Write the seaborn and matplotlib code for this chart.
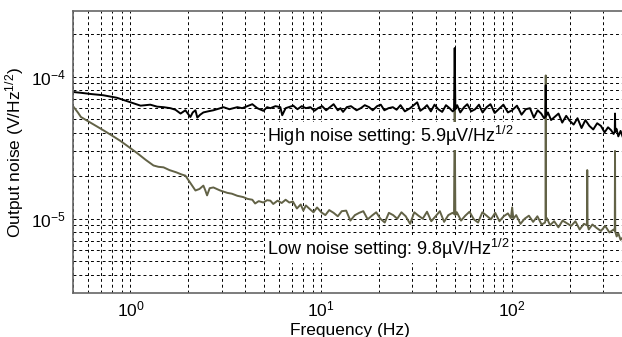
import numpy as np
import matplotlib
matplotlib.use("Agg")
import matplotlib.pyplot as plt
import matplotlib.ticker as mticker
import seaborn as sns

# frequency (Hz) / noise (uV/Hz^1/2)
hi_freq = [0.5, 0.55, 0.62, 0.72, 0.85, 1.0, 1.13, 1.27, 1.38, 1.49,
           1.62, 1.72, 1.83, 1.94, 2.06, 2.12, 2.19, 2.24, 2.32, 2.41,
           2.55, 2.72, 2.9, 3.07, 3.3, 3.63, 3.85, 4.1, 4.35, 4.62,
           4.97, 5.2, 5.41, 5.75, 6.1, 6.24, 6.5, 7.13, 7.5, 7.9,
           8.3, 8.76, 9.2, 9.6, 10.1, 10.6, 11.1, 11.6, 12.2, 12.6,
           13.0, 13.6, 14.3, 15.3, 16.1, 16.9, 17.8, 18.6, 19.6, 20.5,
           21.4, 22.5, 23.7, 24.8, 26.0, 27.4, 29.2, 30.5, 31.8, 33.0,
           34.5, 35.8, 37.5, 39.2, 41.0, 43.0, 45.0, 47.0, 48.8, 49.6,
           50.0, 50.4, 51.5, 53.5, 56.0, 58.2, 61.0, 64.0, 67.0, 70.0,
           73.5, 77.0, 81.0, 86.0, 90.0, 95.0, 100.0, 106.0, 112.0, 118.0,
           124.0, 130.0, 136.0, 142.0, 147.0, 149.2, 150.0, 150.8, 154.0, 160.0,
           167.0, 175.0, 183.0, 192.0, 200.0, 210.0, 220.0, 231.0, 242.0, 254.0,
           266.0, 279.0, 292.0, 305.0, 318.0, 330.0, 340.0, 345.0, 346.0, 347.0,
           352.0, 360.0, 370.0, 380.0]
hi_noise = [78, 77, 75.5, 74, 71, 66, 62.5, 63.5, 61.5, 61,
            60, 58.5, 55, 58, 52, 56, 58, 51.5, 54, 56,
            57, 58, 59.5, 61, 59, 61, 60, 62, 64, 60,
            57.5, 61, 60, 62, 61, 53.5, 60, 62.5, 59, 62,
            60, 61, 57.5, 60, 62, 58, 61, 64, 58, 60,
            56.5, 61, 62, 58, 60, 63, 61, 58, 62, 63.5,
            58, 60, 61, 58.5, 63, 57, 60, 63, 66, 57.5,
            60, 63, 57, 63.5, 59, 56.5, 63, 60, 57, 58,
            159, 59, 63, 56, 61, 64, 57, 59, 63.5, 56,
            61, 64, 55.5, 60, 63.5, 56, 58, 62.5, 54, 59,
            60, 51.5, 58, 55, 51, 52, 87, 53, 56, 49.5,
            52, 55, 47.5, 53, 49, 46, 51, 43.5, 49.5, 45,
            42.5, 47, 45, 40.5, 44, 42, 39.5, 41, 55, 41,
            43, 38, 41.5, 37.5]

lo_freq = [0.5, 0.53, 0.55, 0.6, 0.66, 0.72, 0.8, 0.88, 0.98, 1.09,
           1.2, 1.32, 1.4, 1.49, 1.6, 1.74, 1.85, 1.94, 2.05, 2.19,
           2.3, 2.41, 2.46, 2.52, 2.6, 2.72, 2.95, 3.22, 3.4, 3.63,
           3.9, 4.1, 4.35, 4.5, 4.7, 4.97, 5.2, 5.41, 5.6, 5.9,
           6.2, 6.5, 6.8, 7.1, 7.45, 7.8, 8.05, 8.3, 8.7, 9.1,
           9.5, 10.0, 10.5, 11.0, 11.6, 12.2, 12.8, 13.5, 14.2, 15.0,
           15.8, 16.6, 17.5, 18.4, 19.4, 20.4, 21.5, 22.6, 23.8, 25.0,
           26.3, 27.7, 29.2, 30.7, 32.3, 34.0, 35.8, 37.7, 39.7, 41.8,
           44.0, 46.3, 48.7, 49.6, 50.0, 50.4, 51.3, 54.0, 56.8, 59.8,
           63.0, 66.3, 69.8, 73.5, 77.4, 81.5, 85.8, 90.3, 95.0, 98.5,
           100.0, 101.5, 105.0, 110.5, 116.3, 122.4, 128.8, 135.6, 142.7, 148.8,
           149.6, 150.0, 150.4, 152.0, 158.0, 166.0, 174.7, 183.9, 193.6, 203.8,
           214.5, 225.8, 237.7, 246.5, 247.5, 248.5, 252.0, 263.4, 277.3, 291.9,
           307.3, 323.5, 340.5, 345.0, 346.0, 347.0, 353.0, 360.0, 370.0, 380.0]
lo_noise = [62, 56, 52, 48.5, 45, 42, 38.5, 35.5, 32, 28.8,
            26, 23.7, 23.2, 23, 22, 21.2, 20.5, 20.1, 18, 15.8,
            16.2, 17.1, 16, 14.6, 16.4, 16.6, 15.8, 15.2, 15.0, 14.5,
            14.2, 13.8, 13.6, 12.8, 13.3, 13.0, 13.5, 13.4, 12.7, 13.4,
            12.9, 13.6, 13.0, 13.2, 11.8, 12.6, 11.4, 12.4, 11.7, 11.1,
            12.0, 11.1, 10.6, 11.5, 11.0, 10.4, 11.3, 11.4, 9.7, 10.6,
            11.0, 11.3, 9.9, 10.5, 11.1, 10.0, 9.4, 11.0, 10.6, 10.0,
            11.1, 10.4, 9.2, 11.1, 10.5, 10.0, 11.2, 9.6, 10.4, 11.3,
            9.5, 10.6, 11.0, 10.8, 60, 10.6, 11.1, 9.7, 10.5, 11.2,
            9.9, 9.4, 11.1, 10.5, 9.9, 11.0, 9.6, 10.4, 10.9, 10.1,
            12.0, 10.0, 10.6, 9.2, 10.0, 10.5, 9.5, 10.4, 9.1, 9.4,
            9.9, 102, 9.8, 10.1, 9.0, 9.6, 8.7, 9.7, 9.3, 8.9,
            9.6, 8.4, 9.2, 9.0, 22, 9.0, 8.4, 9.1, 8.6, 8.2,
            8.9, 8.0, 8.4, 8.2, 30, 8.1, 7.5, 7.9, 7.1, 7.4]

hi_label = "High noise setting: 5.9\u00b5V/Hz$^{1/2}$"
lo_label = "Low noise setting: 9.8\u00b5V/Hz$^{1/2}$"

sns.set_style("white")
plt.rcParams['font.family'] = ['Liberation Sans', 'DejaVu Sans']
plt.rcParams['mathtext.fontset'] = 'custom'
plt.rcParams['mathtext.rm'] = 'Liberation Sans'
plt.rcParams['mathtext.it'] = 'Liberation Sans:italic'
plt.rcParams['mathtext.default'] = 'regular'
plt.rcParams['text.color'] = 'black'
plt.rcParams['axes.labelcolor'] = 'black'

fig = plt.figure(figsize=(6.22, 3.37), dpi=100)
ax = fig.add_axes([0.1174, 0.1306, 0.8907, 0.8368])

sns.lineplot(x=lo_freq, y=np.array(lo_noise) * 1e-6, ax=ax, color='#626246',
             lw=1.4, sort=False, estimator=None, zorder=2)
sns.lineplot(x=hi_freq, y=np.array(hi_noise) * 1e-6, ax=ax, color='black',
             lw=1.4, sort=False, estimator=None, zorder=2.1)

ax.set_xscale('log')
ax.set_yscale('log')
ax.set_xlim(0.5, 400)
ax.set_ylim(3e-6, 2.9e-4)

ax.xaxis.set_major_locator(mticker.LogLocator(base=10))
ax.xaxis.set_minor_locator(mticker.LogLocator(base=10, subs=np.arange(2, 10)))
ax.yaxis.set_major_locator(mticker.LogLocator(base=10))
ax.yaxis.set_minor_locator(mticker.LogLocator(base=10, subs=np.arange(2, 10)))
ax.xaxis.set_minor_formatter(mticker.NullFormatter())
ax.yaxis.set_minor_formatter(mticker.NullFormatter())

ax.grid(True, which='both', color='black', linestyle=(0, (3, 3)), linewidth=0.7)
ax.set_axisbelow(True)

for side in ['left', 'bottom', 'top', 'right']:
    ax.spines[side].set_color('#666666')
    ax.spines[side].set_linewidth(1.2)

ax.tick_params(which='both', direction='in', colors='#666666',
               labelcolor='black', labelsize=12.5)
ax.tick_params(which='major', length=5, pad=5)
ax.tick_params(which='minor', length=3)

ax.set_xlabel('Frequency (Hz)', fontsize=12.5, labelpad=2)
ax.set_ylabel('Output noise (V/Hz$^{1/2}$)', fontsize=12.5, labelpad=4)

ax.text(0.350, 0.535, hi_label, transform=ax.transAxes, fontsize=13,
        va='baseline', ha='left', zorder=3,
        bbox=dict(facecolor='white', edgecolor='none', pad=1.5))
ax.text(0.350, 0.135, lo_label, transform=ax.transAxes, fontsize=13,
        va='baseline', ha='left', zorder=3,
        bbox=dict(facecolor='white', edgecolor='none', pad=1.5))

fig.savefig('out.png', dpi=100)
